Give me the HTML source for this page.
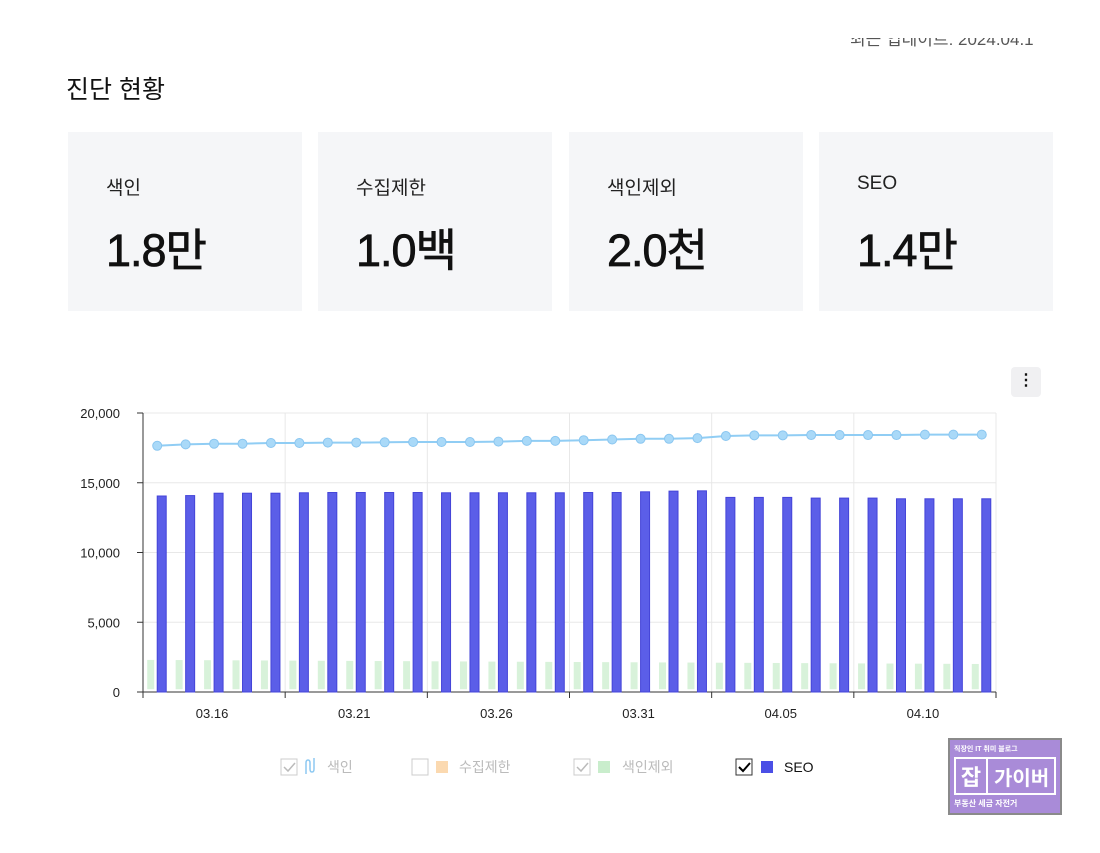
<!DOCTYPE html><html><head><meta charset="utf-8"><style>
body{margin:0;width:1100px;height:853px;background:#fff;font-family:"Liberation Sans","Noto Sans CJK KR",sans-serif;position:relative;overflow:hidden;color:#111}
.a{position:absolute}
.card{position:absolute;top:132px;width:234px;height:179px;background:#f5f6f8}
.card .l{position:absolute;left:38px;top:41px;font-size:19px;color:#222}
.card .v{position:absolute;left:38px;top:82px;font-size:45px;letter-spacing:-1px;color:#111;-webkit-text-stroke:0.7px #111}
</style></head><body>
<div class="a" style="left:850px;top:38px;height:10px;overflow:hidden"><div style="margin-top:-9px;font-size:17px;color:#555;line-height:22px;white-space:nowrap">최근 업데이트: 2024.04.1</div></div>
<div class="a" style="left:66px;top:70px;font-size:25px">진단 현황</div>
<div class="card" style="left:68px"><div class="l">색인</div><div class="v">1.8만</div></div>
<div class="card" style="left:318px"><div class="l">수집제한</div><div class="v">1.0백</div></div>
<div class="card" style="left:569px"><div class="l">색인제외</div><div class="v">2.0천</div></div>
<div class="card" style="left:819px"><div class="l">SEO</div><div class="v">1.4만</div></div>
<div class="a" style="left:1011px;top:367px;width:30px;height:30px;background:#f0f0f2;border-radius:4px;text-align:center;line-height:28px;font-size:16px;font-weight:bold">⋮</div>
<svg class="a" style="left:0;top:0" width="1100" height="853" id="s"></svg>
<div class="a" style="left:948px;top:738px;width:110px;height:73px;background:#a98bd8;border:2px solid #8a8a8a;color:#fff;font-weight:bold">
<div style="font-size:7px;margin:4px 0 0 4px">직장인 IT 취미 블로그</div>
<div style="margin:3px 4px;height:34px;border:2px solid #fff;display:flex;align-items:center"><span style="font-size:22px;width:30px;text-align:center">잡</span><span style="background:#fff;height:34px;width:2px"></span><span style="font-size:20px;padding-left:6px">가이버</span></div>
<div style="font-size:8px;margin-left:4px">부동산 세금 자전거</div></div>
<script>
const s=document.getElementById('s');let h='';
const X0=143,X1=996,Y0=692,k=279/20000,sw=(X1-X0)/30;
const y=v=>Y0-v*k;
for(let v=5000;v<=20000;v+=5000)h+=`<line x1="${X0}" x2="${X1}" y1="${y(v)}" y2="${y(v)}" stroke="#e8e8e8"/>`;
for(let i=0;i<=6;i++){const x=X0+i*5*sw;if(i>0)h+=`<line x1="${x}" x2="${x}" y1="413" y2="${Y0}" stroke="#e8e8e8"/>`;h+=`<line x1="${x}" x2="${x}" y1="${Y0}" y2="${Y0+6}" stroke="#333"/>`}
h+=`<line x1="${X0}" x2="${X0}" y1="413" y2="${Y0}" stroke="#333"/><line x1="${X0}" x2="${X1}" y1="${Y0}" y2="${Y0}" stroke="#333"/>`;
['0','5,000','10,000','15,000','20,000'].forEach((t,i)=>h+=`<text x="${X0-23}" y="${y(i*5000)+5}" text-anchor="end" font-size="13" fill="#222">${t}</text><line x1="${X0-6}" x2="${X0}" y1="${y(i*5000)}" y2="${y(i*5000)}" stroke="#333"/>`);
['03.16','03.21','03.26','03.31','04.05','04.10'].forEach((t,i)=>h+=`<text x="${X0+(2+5*i+.5)*sw-2}" y="718" text-anchor="middle" font-size="13" fill="#222">${t}</text>`);
const seo=[14050,14080,14250,14250,14250,14280,14300,14300,14300,14300,14280,14280,14280,14280,14280,14300,14300,14350,14400,14420,13950,13950,13950,13900,13900,13900,13850,13850,13850,13850];
const ln=[17650,17750,17800,17800,17850,17850,17880,17880,17900,17920,17920,17920,17950,18000,18000,18050,18100,18150,18150,18200,18350,18400,18400,18420,18420,18420,18420,18450,18450,18450];
let pts=[];
for(let i=0;i<30;i++){const c=X0+(i+.5)*sw;const g=2300-i*10;
h+=`<rect x="${c-10}" y="${y(g)}" width="7" height="${y(200)-y(g)}" fill="#d8f2da"/>`;
h+=`<rect x="${c}" y="${y(seo[i])}" width="9" height="${Y0-y(seo[i])}" fill="#5b5ee8" stroke="#4444d8" stroke-width="1"/>`;
pts.push([c,y(ln[i])])}
h+=`<polyline points="${pts.map(p=>p.join(',')).join(' ')}" fill="none" stroke="#90cdf4" stroke-width="2"/>`;
pts.forEach(p=>h+=`<circle cx="${p[0]}" cy="${p[1]}" r="4.5" fill="#a9d9f8" stroke="#8ac6f0"/>`);
const cb=(x,on,dark)=>`<rect x="${x}" y="759" width="16" height="16" fill="#fff" stroke="${dark?'#333':'#ccc'}"/>`+(on?`<path d="M${x+3} ${767}l4 4l7-8" fill="none" stroke="${dark?'#000':'#bbb'}" stroke-width="${dark?2:1.5}"/>`:'');
h+=cb(281,1,0)+`<path d="M306 774v-11q0-3 2-3t2 3v6q0 3 2 3t2-3v-11" fill="none" stroke="#8ec9f2" stroke-width="1.5"/><text x="327" y="772" font-size="14" fill="#bbb">색인</text>`;
h+=cb(412,0,0)+`<rect x="436" y="761" width="12" height="12" fill="#fbd9b0"/><text x="459" y="772" font-size="14" fill="#bbb">수집제한</text>`;
h+=cb(574,1,0)+`<rect x="598" y="761" width="12" height="12" fill="#c9edcc"/><text x="622" y="772" font-size="14" fill="#bbb">색인제외</text>`;
h+=cb(736,1,1)+`<rect x="761" y="761" width="12" height="12" fill="#4b4fe6"/><text x="784" y="772" font-size="14" fill="#111">SEO</text>`;
s.innerHTML=h;
</script></body></html>
